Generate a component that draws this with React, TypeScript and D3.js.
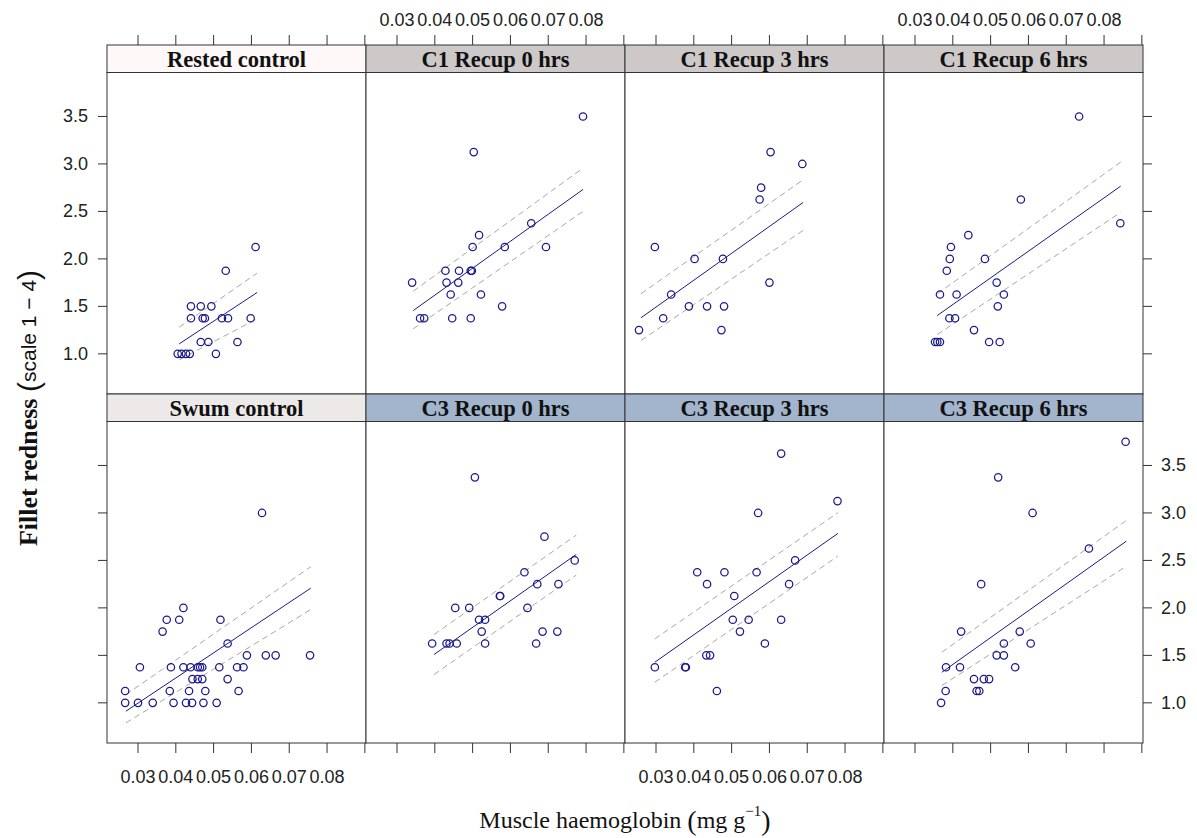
import React from 'react';
import * as d3 from 'd3';

// ---------- data ----------
const panelNames = [
  'Rested control', 'C1 Recup 0 hrs', 'C1 Recup 3 hrs', 'C1 Recup 6 hrs',
  'Swum control', 'C3 Recup 0 hrs', 'C3 Recup 3 hrs', 'C3 Recup 6 hrs',
];

const xTicks = [0.03, 0.04, 0.05, 0.06, 0.07, 0.08, 0.09];
const xTickLabels = ['0.03', '0.04', '0.05', '0.06', '0.07', '0.08', ''];
const yTicks = [1.0, 1.5, 2.0, 2.5, 3.0, 3.5];
const yTickLabels = ['1.0', '1.5', '2.0', '2.5', '3.0', '3.5'];

const restedX = [0.0611, 0.0532, 0.0440, 0.0466, 0.0494, 0.0440, 0.0471, 0.0477, 0.0522, 0.0538, 0.0598, 0.0466, 0.0486, 0.0563, 0.0506, 0.0405, 0.0415, 0.0427, 0.0437];
const restedY = [2.125, 1.875, 1.5, 1.5, 1.5, 1.375, 1.375, 1.375, 1.375, 1.375, 1.375, 1.125, 1.125, 1.125, 1.0, 1.0, 1.0, 1.0, 1.0];

const c1r0X = [0.0792, 0.0503, 0.0517, 0.0500, 0.0655, 0.0585, 0.0694, 0.0428, 0.0464, 0.0495, 0.0498, 0.0340, 0.0431, 0.0462, 0.0442, 0.0522, 0.0578, 0.0361, 0.0372, 0.0446, 0.0495];
const c1r0Y = [3.5, 3.125, 2.25, 2.125, 2.375, 2.125, 2.125, 1.875, 1.875, 1.875, 1.875, 1.75, 1.75, 1.75, 1.625, 1.625, 1.5, 1.375, 1.375, 1.375, 1.375];

const c1r3X = [0.0603, 0.0687, 0.0578, 0.0574, 0.0297, 0.0402, 0.0477, 0.0340, 0.0600, 0.0387, 0.0435, 0.0480, 0.0319, 0.0255, 0.0473];
const c1r3Y = [3.125, 3.0, 2.75, 2.625, 2.125, 2.0, 2.0, 1.625, 1.75, 1.5, 1.5, 1.5, 1.375, 1.25, 1.25];

const c1r6X = [0.0734, 0.0580, 0.0843, 0.0441, 0.0395, 0.0392, 0.0485, 0.0384, 0.0366, 0.0410, 0.0516, 0.0535, 0.0519, 0.0391, 0.0406, 0.0456, 0.0353, 0.0359, 0.0366, 0.0496, 0.0524];
const c1r6Y = [3.5, 2.625, 2.375, 2.25, 2.125, 2.0, 2.0, 1.875, 1.625, 1.625, 1.75, 1.625, 1.5, 1.375, 1.375, 1.25, 1.125, 1.125, 1.125, 1.125, 1.125];

const swumX = [0.0628, 0.0420, 0.0376, 0.0409, 0.0518, 0.0365, 0.0537, 0.0588, 0.0638, 0.0664, 0.0755,
  0.0305, 0.0387, 0.0420, 0.0439, 0.0458, 0.0464, 0.0470, 0.0515, 0.0562, 0.0579,
  0.0444, 0.0458, 0.0470, 0.0537,
  0.0266, 0.0384, 0.0435, 0.0478, 0.0566,
  0.0266, 0.0300, 0.0339, 0.0394, 0.0427, 0.0443, 0.0473, 0.0508];
const swumY = [3.0, 2.0, 1.875, 1.875, 1.875, 1.75, 1.625, 1.5, 1.5, 1.5, 1.5,
  1.375, 1.375, 1.375, 1.375, 1.375, 1.375, 1.375, 1.375, 1.375, 1.375,
  1.25, 1.25, 1.25, 1.25,
  1.125, 1.125, 1.125, 1.125, 1.125,
  1.0, 1.0, 1.0, 1.0, 1.0, 1.0, 1.0, 1.0];

const c3r0X = [0.0506, 0.0690, 0.0770, 0.0637, 0.0671, 0.0727, 0.0572, 0.0573, 0.0454, 0.0491, 0.0645, 0.0517, 0.0533, 0.0524, 0.0685, 0.0724, 0.0393, 0.0431, 0.0439, 0.0458, 0.0533, 0.0668];
const c3r0Y = [3.375, 2.75, 2.5, 2.375, 2.25, 2.25, 2.125, 2.125, 2.0, 2.0, 2.0, 1.875, 1.875, 1.75, 1.75, 1.75, 1.625, 1.625, 1.625, 1.625, 1.625, 1.625];

const c3r3X = [0.0631, 0.0780, 0.0570, 0.0668, 0.0409, 0.0481, 0.0566, 0.0435, 0.0652, 0.0507, 0.0503, 0.0545, 0.0631, 0.0522, 0.0588, 0.0433, 0.0443, 0.0297, 0.0377, 0.0379, 0.0461];
const c3r3Y = [3.625, 3.125, 3.0, 2.5, 2.375, 2.375, 2.375, 2.25, 2.25, 2.125, 1.875, 1.875, 1.875, 1.75, 1.625, 1.5, 1.5, 1.375, 1.375, 1.375, 1.125];

const c3r6X = [0.0857, 0.0520, 0.0611, 0.0760, 0.0475, 0.0422, 0.0577, 0.0535, 0.0606, 0.0516, 0.0535, 0.0382, 0.0419, 0.0565, 0.0456, 0.0482, 0.0496, 0.0463, 0.0470, 0.0381, 0.0369];
const c3r6Y = [3.75, 3.375, 3.0, 2.625, 2.25, 1.75, 1.75, 1.625, 1.625, 1.5, 1.5, 1.375, 1.375, 1.375, 1.25, 1.25, 1.25, 1.125, 1.125, 1.125, 1.0];

// fitted line with lower/upper band: [x, lower, fit, upper]
const restedFit = [[0.0409, 0.937, 1.105, 1.28], [0.0615, 1.37, 1.646, 1.85]];
const c1r0Fit = [[0.0343, 1.263, 1.456, 1.66], [0.0792, 2.50, 2.731, 2.956]];
const c1r3Fit = [[0.0260, 1.14, 1.379, 1.632], [0.0689, 2.30, 2.594, 2.833]];
const c1r6Fit = [[0.0359, 1.203, 1.404, 1.632], [0.0844, 2.49, 2.766, 3.019]];
const swumFit = [[0.0268, 0.789, 0.912, 1.087], [0.0757, 1.983, 2.208, 2.433]];
const c3r0Fit = [[0.0398, 1.298, 1.509, 1.72], [0.0774, 2.345, 2.563, 2.766]];
const c3r3Fit = [[0.0297, 1.217, 1.428, 1.674], [0.0781, 2.545, 2.784, 3.002]];
const c3r6Fit = [[0.0371, 1.182, 1.322, 1.533], [0.0859, 2.439, 2.703, 2.921]];

const panelXs = [restedX, c1r0X, c1r3X, c1r6X, swumX, c3r0X, c3r3X, c3r6X];
const panelYs = [restedY, c1r0Y, c1r3Y, c1r6Y, swumY, c3r0Y, c3r3Y, c3r6Y];
const panelFits = [restedFit, c1r0Fit, c1r3Fit, c1r6Fit, swumFit, c3r0Fit, c3r3Fit, c3r6Fit];

// ---------- styles / layout ----------
const stripColors = ['#FFF8F8', '#CDC9C9', '#CDC9C9', '#CDC9C9', '#EEE9E9', '#A2B5CD', '#A2B5CD', '#A2B5CD'];
const W = 1197, H = 838;
const left0 = 107, colW = 259;
const rowsY = [
  { strip: 45, top: 72.5, bottom: 394 },
  { strip: 394, top: 421.5, bottom: 743 },
];
const ptColor = '#1A1A8C';
const tickFont = '"Liberation Sans", Arial, sans-serif';
const serif = '"Liberation Serif", "Times New Roman", serif';
const tickSize = 18;

export default function App() {
  const x = d3.scaleLinear().domain([0.0218, 0.0903]).range([0, colW]);
  const yFor = (r: number) => d3.scaleLinear().domain([0.577, 3.963]).range([rowsY[r].bottom, rowsY[r].top]);

  const panels = panelNames.map((name, i) => {
    const col = i % 4, row = Math.floor(i / 4);
    const L = left0 + col * colW;
    const R = rowsY[row];
    const y = yFor(row);
    const xs = panelXs[i], ys = panelYs[i], fit = panelFits[i];
    const mk = (idx: number) => d3.line<number[]>().x(d => L + x(d[0])).y(d => y(d[idx]))(fit) as string;
    return (
      <g key={i}>
        <rect x={L} y={R.top} width={colW} height={R.bottom - R.top} fill="#fff" stroke="none" />
        <path d={mk(1)} fill="none" stroke="#A8A8A8" strokeWidth={1} strokeDasharray="6 4" />
        <path d={mk(3)} fill="none" stroke="#A8A8A8" strokeWidth={1} strokeDasharray="6 4" />
        <path d={mk(2)} fill="none" stroke={ptColor} strokeWidth={1} />
        {xs.map((xv, k) => (
          <circle key={k} cx={L + x(xv)} cy={y(ys[k])} r={3.7} fill="none" stroke={ptColor} strokeWidth={1.25} />
        ))}
        <rect x={L} y={R.strip} width={colW} height={R.top - R.strip} fill={stripColors[i]} stroke="#333" strokeWidth={1} />
        <text x={L + colW / 2} y={(R.strip + R.top) / 2 + 1} textAnchor="middle" dominantBaseline="central"
          fontFamily={serif} fontWeight="bold" fontSize={22.5} fill="#111">{name}</text>
        <rect x={L} y={R.top} width={colW} height={R.bottom - R.top} fill="none" stroke="#333" strokeWidth={1} />
      </g>
    );
  });

  // x axes
  const xAxes: React.ReactNode[] = [];
  for (let col = 0; col < 4; col++) {
    const L = left0 + col * colW;
    xTicks.forEach((t, k) => {
      const px = L + x(t);
      xAxes.push(<line key={`tt${col}-${k}`} x1={px} x2={px} y1={35} y2={45} stroke="#333" />);
      xAxes.push(<line key={`bt${col}-${k}`} x1={px} x2={px} y1={743} y2={753} stroke="#333" />);
      if (col % 2 === 1 && xTickLabels[k]) {
        xAxes.push(<text key={`tl${col}-${k}`} x={px} y={20} textAnchor="middle" dominantBaseline="central"
          fontFamily={tickFont} fontSize={tickSize} fill="#222">{xTickLabels[k]}</text>);
      }
      if (col % 2 === 0 && xTickLabels[k]) {
        xAxes.push(<text key={`bl${col}-${k}`} x={px} y={777} textAnchor="middle" dominantBaseline="central"
          fontFamily={tickFont} fontSize={tickSize} fill="#222">{xTickLabels[k]}</text>);
      }
    });
  }

  // y axes
  const yAxes: React.ReactNode[] = [];
  [0, 1].forEach(row => {
    const y = yFor(row);
    yTicks.forEach((t, k) => {
      const py = y(t);
      yAxes.push(<line key={`yl${row}-${k}`} x1={98} x2={107} y1={py} y2={py} stroke="#333" />);
      yAxes.push(<line key={`yr${row}-${k}`} x1={1143} x2={1152} y1={py} y2={py} stroke="#333" />);
      if (row === 0) {
        yAxes.push(<text key={`ylt${row}-${k}`} x={88} y={py} textAnchor="end" dominantBaseline="central"
          fontFamily={tickFont} fontSize={tickSize} fill="#222">{yTickLabels[k]}</text>);
      } else {
        yAxes.push(<text key={`yrt${row}-${k}`} x={1161} y={py} textAnchor="start" dominantBaseline="central"
          fontFamily={tickFont} fontSize={tickSize} fill="#222">{yTickLabels[k]}</text>);
      }
    });
  });

  return (
    <svg width={W} height={H} style={{ position: 'absolute', left: 0, top: 0, background: '#fff' }}>
      <rect x={0} y={0} width={W} height={H} fill="#fff" />
      {panels}
      {xAxes}
      {yAxes}
      <text x={625} y={820} textAnchor="middle" dominantBaseline="central" fontFamily={serif} fontSize={24} fill="#111">
        <tspan>Muscle haemoglobin </tspan>
        <tspan fontSize={28}>(</tspan>
        <tspan>mg g</tspan>
        <tspan fontSize={15} dy={-9}>−1</tspan>
        <tspan fontSize={28} dy={9}>)</tspan>
      </text>
      <text transform="translate(28,408) rotate(-90)" textAnchor="middle" dominantBaseline="central" fill="#111">
        <tspan fontFamily={serif} fontWeight="bold" fontSize={26}>Fillet redness </tspan>
        <tspan fontFamily={tickFont} fontSize={30}>(</tspan>
        <tspan fontFamily={tickFont} fontSize={21}>scale 1 − 4</tspan>
        <tspan fontFamily={tickFont} fontSize={30}>)</tspan>
      </text>
    </svg>
  );
}
